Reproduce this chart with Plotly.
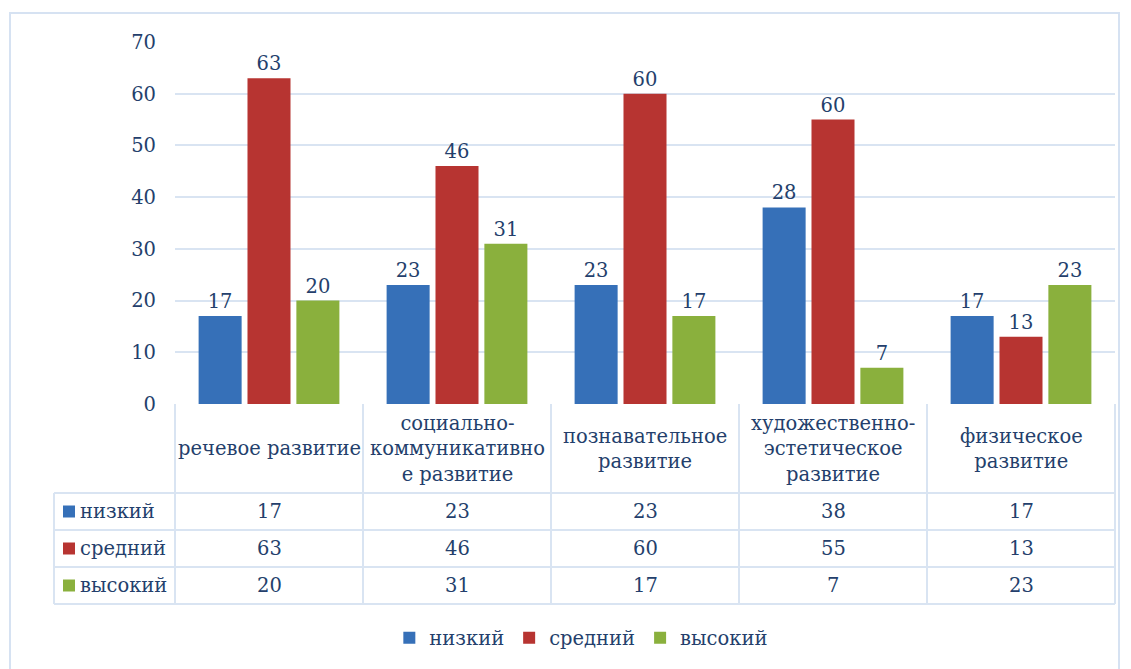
import plotly.graph_objects as go

categories = ["речевое развитие", "социально-коммуникативное развитие",
              "познавательное развитие", "художественно-эстетическое развитие",
              "физическое развитие"]
header_text = ["речевое развитие", "социально-<br>коммуникативно<br>е развитие",
               "познавательное<br>развитие", "художественно-<br>эстетическое<br>развитие",
               "физическое<br>развитие"]
series_names = ["низкий", "средний", "высокий"]
low_values = [17, 23, 23, 38, 17]
mid_values = [63, 46, 60, 55, 13]
high_values = [20, 31, 17, 7, 23]
low_labels = ["17", "23", "23", "28", "17"]
mid_labels = ["63", "46", "60", "60", "13"]
high_labels = ["20", "31", "17", "7", "23"]
y_ticks = [0, 10, 20, 30, 40, 50, 60, 70]

colors = ["#3670B8", "#B73431", "#8AB03D"]
TXT = "#243F6C"
GRID = "#D9E4F2"
FONT = "DejaVu Serif"
FS = 19.5

W, H = 1131, 669
px = lambda x: x / W
py = lambda y: 1 - y / H

fig = go.Figure()
for name, vals, labs, col in zip(series_names, [low_values, mid_values, high_values],
                                  [low_labels, mid_labels, high_labels], colors):
    fig.add_trace(go.Bar(
        x=categories, y=vals, name=name, text=labs, textposition="outside",
        textfont=dict(family=FONT, size=FS, color=TXT), marker=dict(color=col, line=dict(width=0)),
        cliponaxis=False, constraintext="none"))

x0p, x1p = px(175), px(1115)
shapes = []
line = dict(color=GRID, width=2)
shapes.append(dict(type="rect", xref="paper", yref="paper", x0=px(10), x1=px(1119),
                   y0=-0.05, y1=py(13), line=dict(color="#D6E2F2", width=2)))
for yy in [493, 530, 567, 604]:
    shapes.append(dict(type="line", xref="paper", yref="paper", x0=px(54), x1=x1p,
                       y0=py(yy), y1=py(yy), line=line))
shapes.append(dict(type="line", xref="paper", yref="paper", x0=px(54), x1=px(54),
                   y0=py(493), y1=py(604), line=line))
for i in range(len(categories) + 1):
    xx = x0p + (x1p - x0p) * i / len(categories)
    shapes.append(dict(type="line", xref="paper", yref="paper", x0=xx, x1=xx,
                       y0=py(404), y1=py(604), line=line))

annotations = []
for i, t in enumerate(header_text):
    annotations.append(dict(x=i, y=py(448.5), xref="x", yref="paper", text=t,
                            showarrow=False, yanchor="middle", xanchor="center",
                            font=dict(family=FONT, size=FS, color=TXT)))
row_centers = [511.5, 548.5, 585.5]
for r, (name, vals, col) in enumerate(zip(series_names, [low_values, mid_values, high_values], colors)):
    yc = py(row_centers[r])
    shapes.append(dict(type="rect", xref="paper", yref="paper", x0=px(63), x1=px(75),
                       y0=yc - 6 / H, y1=yc + 6 / H, fillcolor=col, line=dict(width=0)))
    annotations.append(dict(x=px(78), y=yc, xref="paper", yref="paper", text=name,
                            showarrow=False, xanchor="left", yanchor="middle",
                            font=dict(family=FONT, size=FS, color=TXT)))
    for i, v in enumerate(vals):
        annotations.append(dict(x=i, y=yc, xref="x", yref="paper", text=str(v),
                                showarrow=False, xanchor="center", yanchor="middle",
                                font=dict(family=FONT, size=FS, color=TXT)))

fig.update_layout(
    width=W, height=H, margin=dict(l=0, r=0, t=0, b=0, autoexpand=False),
    paper_bgcolor="white", plot_bgcolor="white",
    barmode="group", bargap=0.22, bargroupgap=0.12,
    font=dict(family=FONT, size=FS, color=TXT),
    shapes=shapes, annotations=annotations,
    xaxis=dict(domain=[x0p, x1p], range=[-0.5, 4.5], showticklabels=False, showgrid=False,
               zeroline=False, showline=False, ticks="", automargin=False),
    yaxis=dict(domain=[py(404), py(42)], range=[0, 70], tickvals=y_ticks,
               showgrid=True, gridcolor=GRID, gridwidth=2, zeroline=False,
               showline=False, ticks="", ticklabelstandoff=18, automargin=False,
               tickfont=dict(family=FONT, size=FS, color=TXT)),
    showlegend=True,
    legend=dict(orientation="h", x=0.514, xanchor="center", y=py(638), yanchor="middle",
                font=dict(family=FONT, size=FS, color=TXT), traceorder="normal",
                itemwidth=30, bgcolor="rgba(0,0,0,0)"),
)
post = ("document.body.style.margin='0';document.body.style.padding='0';"
        "document.body.style.overflow='hidden';"
        "var d=document.getElementById('{plot_id}');"
        "if(d&&d.parentElement){d.parentElement.style.margin='0';d.parentElement.style.padding='0';}")
fig.write_html("out.html", post_script=post, config={"displayModeBar": False})
